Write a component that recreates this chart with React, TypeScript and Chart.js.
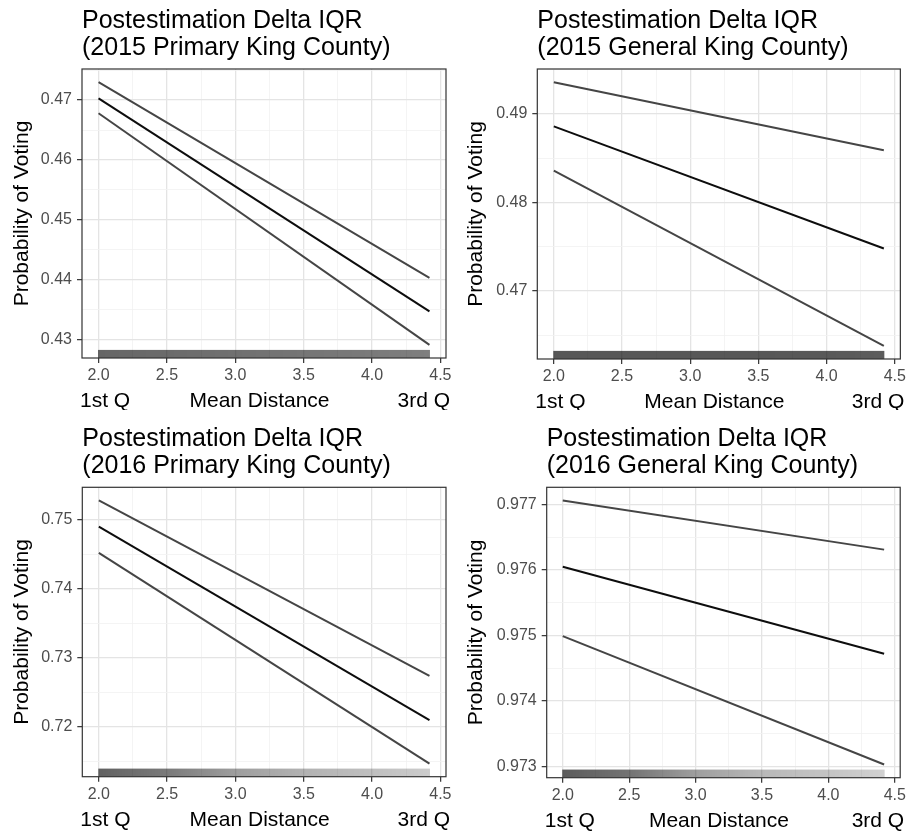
import React, { useEffect, useRef } from 'react';
import { Chart, registerables } from 'chart.js';
Chart.register(...registerables);

const FONT = "'Liberation Sans', Arial, Helvetica, sans-serif";

// ---------- shared x data ----------
const xPoints = [2.0, 4.42];
const xMajor = [2.0, 2.5, 3.0, 3.5, 4.0, 4.5];
const xTickLabels = ['2.0', '2.5', '3.0', '3.5', '4.0', '4.5'];
const xMinor = [1.75, 2.25, 2.75, 3.25, 3.75, 4.25];
const xAxisParts = ['1st Q', 'Mean Distance', '3rd Q'];
const yAxisTitle = 'Probability of Voting';
const rugX = [2.0, 2.5, 3.0, 3.5, 4.0, 4.42];

// ---------- panel 1: 2015 Primary ----------
const p1Title = ['Postestimation Delta IQR', '(2015 Primary King County)'];
const p1Upper = [0.473, 0.4403];
const p1Mean = [0.4703, 0.4347];
const p1Lower = [0.4678, 0.4291];
const p1YMajor = [0.43, 0.44, 0.45, 0.46, 0.47];
const p1YLabels = ['0.43', '0.44', '0.45', '0.46', '0.47'];
const p1YMinor = [0.425, 0.435, 0.445, 0.455, 0.465, 0.475];
const p1Rug = [0.6, 0.58, 0.56, 0.54, 0.52, 0.5];

// ---------- panel 2: 2015 General ----------
const p2Title = ['Postestimation Delta IQR', '(2015 General King County)'];
const p2Upper = [0.4936, 0.4859];
const p2Mean = [0.4886, 0.4748];
const p2Lower = [0.4836, 0.4638];
const p2YMajor = [0.47, 0.48, 0.49];
const p2YLabels = ['0.47', '0.48', '0.49'];
const p2YMinor = [0.465, 0.475, 0.485, 0.495];
const p2Rug = [0.66, 0.66, 0.66, 0.66, 0.65, 0.64];

// ---------- panel 3: 2016 Primary ----------
const p3Title = ['Postestimation Delta IQR', '(2016 Primary King County)'];
const p3Upper = [0.7528, 0.7274];
const p3Mean = [0.749, 0.721];
const p3Lower = [0.7452, 0.7147];
const p3YMajor = [0.72, 0.73, 0.74, 0.75];
const p3YLabels = ['0.72', '0.73', '0.74', '0.75'];
const p3YMinor = [0.715, 0.725, 0.735, 0.745, 0.755];
const p3Rug = [0.62, 0.52, 0.38, 0.3, 0.25, 0.2];

// ---------- panel 4: 2016 General ----------
const p4Title = ['Postestimation Delta IQR', '(2016 General King County)'];
const p4Upper = [0.97706, 0.97631];
const p4Mean = [0.97605, 0.97472];
const p4Lower = [0.97499, 0.97303];
const p4YMajor = [0.973, 0.974, 0.975, 0.976, 0.977];
const p4YLabels = ['0.973', '0.974', '0.975', '0.976', '0.977'];
const p4YMinor = [0.9725, 0.9735, 0.9745, 0.9755, 0.9765, 0.9775];
const p4Rug = [0.64, 0.55, 0.38, 0.28, 0.23, 0.18];

type Panel = {
  title: string[];
  upper: number[];
  mean: number[];
  lower: number[];
  yMajor: number[];
  yLabels: string[];
  yMinor: number[];
  rug: number[];
};

const panels: Panel[] = [
  { title: p1Title, upper: p1Upper, mean: p1Mean, lower: p1Lower, yMajor: p1YMajor, yLabels: p1YLabels, yMinor: p1YMinor, rug: p1Rug },
  { title: p2Title, upper: p2Upper, mean: p2Mean, lower: p2Lower, yMajor: p2YMajor, yLabels: p2YLabels, yMinor: p2YMinor, rug: p2Rug },
  { title: p3Title, upper: p3Upper, mean: p3Mean, lower: p3Lower, yMajor: p3YMajor, yLabels: p3YLabels, yMinor: p3YMinor, rug: p3Rug },
  { title: p4Title, upper: p4Upper, mean: p4Mean, lower: p4Lower, yMajor: p4YMajor, yLabels: p4YLabels, yMinor: p4YMinor, rug: p4Rug },
];

// ---------- layout (positions / sizes) ----------
const boxes = [
  { left: 0, top: 0, w: 460, h: 410, yW: 82, xH: 52, padR: 14, padT: 69, yTitlePad: 10 },
  { left: 450, top: 0, w: 459, h: 410, yW: 87.3, xH: 51, padR: 8.3, padT: 69, yTitlePad: 14 },
  { left: 0, top: 410, w: 460, h: 423, yW: 82.3, xH: 56.3, padR: 14, padT: 77.3, yTitlePad: 10 },
  { left: 450, top: 410, w: 459, h: 423, yW: 96.7, xH: 55.3, padR: 8.3, padT: 77.3, yTitlePad: 14 },
];

const GRID_MAJOR = '#e4e4e4';
const GRID_MINOR = '#f1f1f1';
const AXIS_DARK = '#333333';
const TICK_TEXT = '#4d4d4d';

const near = (list: number[], v: number) => list.some((m) => Math.abs(m - v) < 1e-9);

function expandRange(vals: number[]) {
  const lo = Math.min(...vals);
  const hi = Math.max(...vals);
  const pad = (hi - lo) * 0.05;
  return [lo - pad, hi + pad];
}

function makeConfig(panel: Panel, box: any) {
  const [yMin, yMax] = expandRange([...panel.upper, ...panel.mean, ...panel.lower]);
  const [xMin, xMax] = expandRange(xPoints);
  const toXY = (arr: number[]) => xPoints.map((x, i) => ({ x, y: arr[i] }));

  const decor = {
    id: 'decor',
    beforeDatasetsDraw(chart: any) {
      const { ctx, chartArea: a, scales } = chart;
      const xs = scales.x;
      const x0 = xs.getPixelForValue(rugX[0]);
      const x1 = xs.getPixelForValue(rugX[rugX.length - 1]);
      const g = ctx.createLinearGradient(x0, 0, x1, 0);
      rugX.forEach((v: number, i: number) => {
        const t = (xs.getPixelForValue(v) - x0) / (x1 - x0);
        g.addColorStop(Math.min(1, Math.max(0, t)), `rgba(0,0,0,${panel.rug[i]})`);
      });
      const h = a.height * 0.028;
      ctx.save();
      ctx.fillStyle = g;
      ctx.fillRect(x0 - 0.5, a.bottom - h, x1 - x0 + 1, h);
      ctx.restore();
    },
    afterDraw(chart: any) {
      const { ctx, chartArea: a } = chart;
      ctx.save();
      // panel border
      ctx.strokeStyle = AXIS_DARK;
      ctx.lineWidth = 1.2;
      ctx.strokeRect(a.left, a.top, a.right - a.left, a.bottom - a.top);
      // title
      ctx.fillStyle = '#000';
      ctx.font = `25px ${FONT}`;
      ctx.textAlign = 'left';
      ctx.textBaseline = 'alphabetic';
      ctx.fillText(panel.title[0], a.left, a.top - 41);
      ctx.fillText(panel.title[1], a.left, a.top - 14);
      // x axis title parts
      ctx.font = `21px ${FONT}`;
      const by = a.bottom + 49;
      ctx.textAlign = 'left';
      ctx.fillText(xAxisParts[0], a.left - 2, by);
      ctx.textAlign = 'center';
      ctx.fillText(xAxisParts[1], (a.left + a.right) / 2 - 4.5, by);
      ctx.textAlign = 'right';
      ctx.fillText(xAxisParts[2], a.right + 4, by);
      ctx.restore();
    },
  };

  const gridOpts = (major: number[]) => ({
    display: true,
    drawOnChartArea: true,
    drawTicks: true,
    tickLength: 5,
    color: (c: any) => (c.tick && near(major, c.tick.value) ? GRID_MAJOR : GRID_MINOR),
    lineWidth: (c: any) => (c.tick && near(major, c.tick.value) ? 1.3 : 0.8),
    tickColor: (c: any) => (c.tick && near(major, c.tick.value) ? AXIS_DARK : 'rgba(0,0,0,0)'),
    tickWidth: 1.2,
  });

  return {
    type: 'line' as const,
    data: {
      datasets: [
        { label: 'upper', data: toXY(panel.upper), borderColor: '#454545', borderWidth: 2, pointRadius: 0, fill: false },
        { label: 'mean', data: toXY(panel.mean), borderColor: '#0d0d0d', borderWidth: 2, pointRadius: 0, fill: false },
        { label: 'lower', data: toXY(panel.lower), borderColor: '#454545', borderWidth: 2, pointRadius: 0, fill: false },
      ],
    },
    options: {
      animation: false as const,
      responsive: false,
      devicePixelRatio: 1,
      layout: { padding: { left: 0, right: box.padR, top: box.padT, bottom: 0 } },
      plugins: { legend: { display: false }, tooltip: { enabled: false }, title: { display: false } },
      scales: {
        x: {
          type: 'linear' as const,
          min: xMin,
          max: xMax,
          border: { display: false },
          grid: gridOpts(xMajor),
          afterBuildTicks: (s: any) => {
            s.ticks = [...xMajor, ...xMinor]
              .filter((v) => v >= s.min - 1e-9 && v <= s.max + 1e-9)
              .sort((a, b) => a - b)
              .map((v) => ({ value: v }));
          },
          afterFit: (s: any) => {
            s.height = box.xH;
          },
          ticks: {
            autoSkip: false,
            maxRotation: 0,
            padding: 3,
            color: TICK_TEXT,
            font: { size: 16, family: FONT },
            callback: (v: any) => {
              const i = xMajor.findIndex((m) => Math.abs(m - v) < 1e-9);
              return i >= 0 ? xTickLabels[i] : '';
            },
          },
        },
        y: {
          type: 'linear' as const,
          min: yMin,
          max: yMax,
          border: { display: false },
          grid: gridOpts(panel.yMajor),
          afterBuildTicks: (s: any) => {
            s.ticks = [...panel.yMajor, ...panel.yMinor]
              .filter((v) => v >= s.min - 1e-12 && v <= s.max + 1e-12)
              .sort((a, b) => a - b)
              .map((v) => ({ value: v }));
          },
          afterFit: (s: any) => {
            s.width = box.yW;
          },
          title: {
            display: true,
            text: yAxisTitle,
            color: '#000',
            font: { size: 21, family: FONT },
            padding: { top: box.yTitlePad, bottom: 0 },
          },
          ticks: {
            autoSkip: false,
            padding: 5,
            color: TICK_TEXT,
            font: { size: 16, family: FONT },
            callback: (v: any) => {
              const i = panel.yMajor.findIndex((m) => Math.abs(m - v) < 1e-9);
              return i >= 0 ? panel.yLabels[i] : '';
            },
          },
        },
      },
    },
    plugins: [decor],
  };
}

function PanelChart({ panel, box }: { panel: Panel; box: any }) {
  const ref = useRef<HTMLCanvasElement>(null);
  useEffect(() => {
    const chart = new Chart(ref.current as HTMLCanvasElement, makeConfig(panel, box) as any);
    return () => chart.destroy();
  }, []);
  return (
    <div style={{ position: 'absolute', left: box.left, top: box.top, width: box.w, height: box.h }}>
      <canvas ref={ref} width={box.w} height={box.h} style={{ width: box.w, height: box.h, display: 'block' }} />
    </div>
  );
}

export default function App() {
  return (
    <div style={{ position: 'fixed', left: 0, top: 0, width: 909, height: 833, background: '#fff', overflow: 'hidden' }}>
      {panels.map((p, i) => (
        <PanelChart key={i} panel={p} box={boxes[i]} />
      ))}
    </div>
  );
}
